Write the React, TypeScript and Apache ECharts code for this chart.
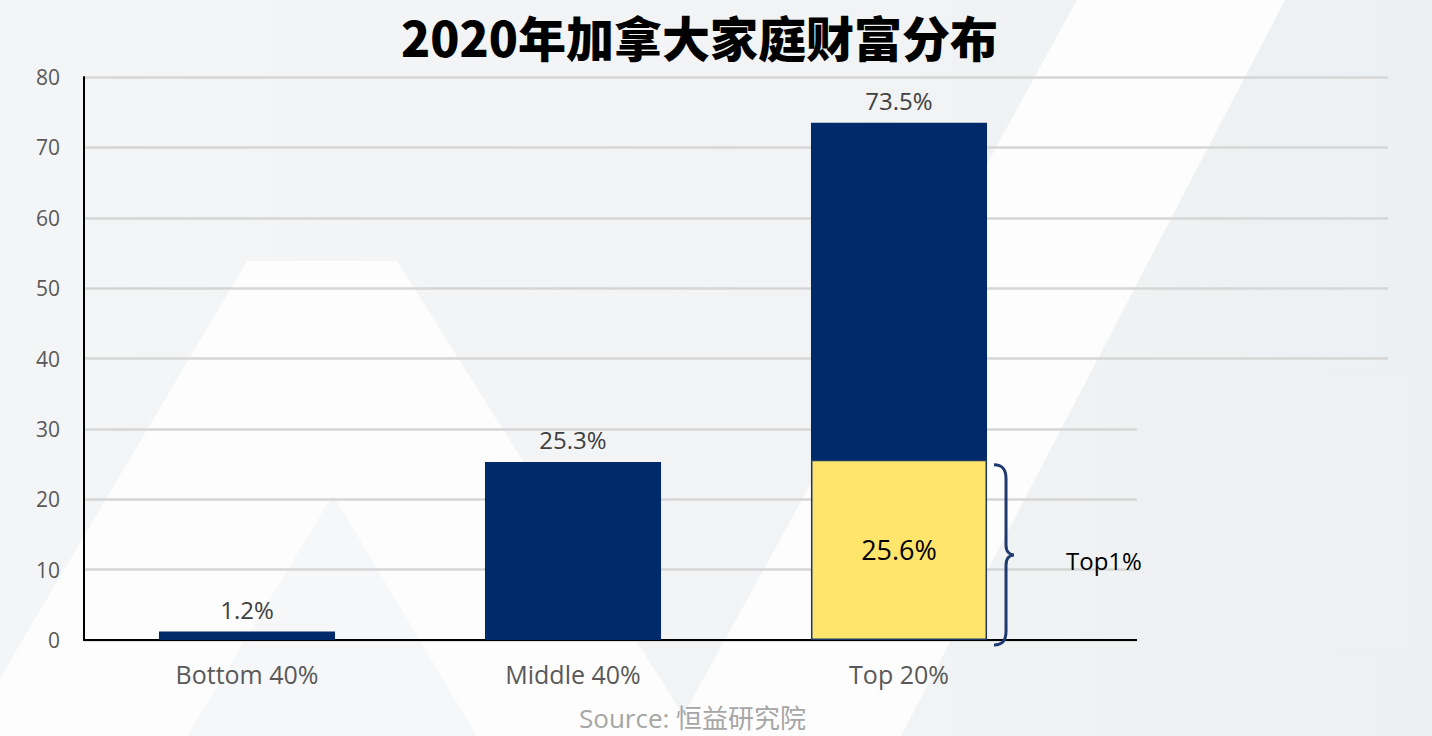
import React, { useEffect, useRef } from 'react';
import * as echarts from 'echarts';

const TITLE = '2020年加拿大家庭财富分布';
const SOURCE = 'Source: 恒益研究院';
const CATEGORIES = ['Bottom 40%', 'Middle 40%', 'Top 20%', ''];
const WEALTH_SHARE: (number | null)[] = [1.2, 25.3, 73.5, null];
const TOP1_SHARE: (number | null)[] = [null, null, 25.6, null];
const TOP1_LABEL = 'Top1%';
const Y_MIN = 0;
const Y_MAX = 80;
const Y_STEP = 10;

const NAVY = '#012a6a';
const YELLOW = '#ffe56b';
const BG = '#eff1f3';
const BAR_WIDTH_RATIO = 0.54;
const LATIN = 'Open Sans';

export default function App() {
  const ref = useRef<HTMLDivElement>(null);

  useEffect(() => {
    if (!ref.current) return;
    const chart = echarts.init(ref.current, undefined, { renderer: 'svg' });

    const braceData = TOP1_SHARE.map((v, i) => (v == null ? null : [i, v, 0])).filter(
      (d) => d != null
    ) as number[][];

    const renderBrace = (params: any, api: any) => {
      const idx = api.value(0);
      const xc = api.coord([idx, 0])[0];
      const yT = api.coord([idx, api.value(1)])[1] + 5;
      const yB = api.coord([idx, api.value(2)])[1] + 5;
      const ym = (yT + yB) / 2;
      const bw = api.size([1, 0])[0] * BAR_WIDTH_RATIO;
      const x0 = xc + bw / 2 + 7;
      const d =
        `M${x0} ${yT} C${x0 + 8} ${yT} ${x0 + 12} ${yT + 4} ${x0 + 12} ${yT + 14} ` +
        `L${x0 + 12} ${ym - 10} C${x0 + 12} ${ym - 3} ${x0 + 16} ${ym} ${x0 + 20} ${ym} ` +
        `C${x0 + 16} ${ym} ${x0 + 12} ${ym + 3} ${x0 + 12} ${ym + 10} ` +
        `L${x0 + 12} ${yB - 14} C${x0 + 12} ${yB - 4} ${x0 + 8} ${yB} ${x0} ${yB}`;
      return {
        type: 'group',
        children: [
          {
            type: 'path',
            shape: { pathData: d },
            style: { stroke: '#1f3a70', lineWidth: 3, fill: 'none' },
          },
          {
            type: 'text',
            style: {
              text: TOP1_LABEL,
              x: x0 + 72,
              y: ym + 6,
              fill: '#000',
              fontSize: 24,
              fontFamily: LATIN,
              verticalAlign: 'middle',
              align: 'left',
            },
          },
        ],
      };
    };

    const option: any = {
      animation: false,
      backgroundColor: BG,
      title: {
        text: TITLE,
        left: 396,
        top: 7,
        textStyle: {
          fontFamily: 'Noto Sans CJK SC',
          fontWeight: 900,
          fontSize: 48,
          color: '#000',
        },
      },
      grid: { left: 84, right: 44, top: 77, bottom: 96, containLabel: false },
      xAxis: {
        type: 'category',
        data: CATEGORIES,
        axisLine: { lineStyle: { color: '#000', width: 2 } },
        axisTick: { show: false },
        axisLabel: { color: '#595959', fontSize: 25, fontFamily: LATIN, margin: 21 },
        splitLine: { show: false },
      },
      yAxis: {
        type: 'value',
        min: Y_MIN,
        max: Y_MAX,
        interval: Y_STEP,
        axisLine: { show: true, lineStyle: { color: '#000', width: 2 } },
        axisTick: { show: false },
        axisLabel: { color: '#595959', fontSize: 21, fontFamily: LATIN, margin: 24 },
        splitLine: { lineStyle: { color: '#d6d6d6', width: 2.5 } },
      },
      graphic: [
        {
          type: 'rect',
          z: -20,
          shape: { x: 0, y: 0, width: 1432, height: 736 },
          style: {
            fill: new echarts.graphic.LinearGradient(0, 0, 1, 0, [
              { offset: 0, color: '#f4f5f6' },
              { offset: 0.6, color: '#f1f3f4' },
              { offset: 1, color: '#edf0f2' },
            ]),
          },
        },
        {
          type: 'polygon',
          z: -10,
          shape: { points: [[247, 261], [397, 261], [685, 718], [690, 736], [0, 736], [0, 678]] },
          style: { fill: '#fdfdfd' },
        },
        {
          type: 'polygon',
          z: -9,
          shape: { points: [[333, 495], [477, 736], [187, 736]] },
          style: { fill: '#f6f7f8' },
        },
        {
          type: 'polygon',
          z: -10,
          shape: { points: [[1077, 0], [1285, 0], [901, 736], [672, 736]] },
          style: { fill: '#fdfdfd' },
        },
        {
          type: 'rect',
          z: 1,
          shape: { x: 1137, y: 372, width: 270, height: 280 },
          style: { fill: '#eef0f2' },
        },
        {
          type: 'text',
          z: 5,
          x: 579,
          y: 718,
          style: {
            text: SOURCE,
            fill: '#a6a6a6',
            fontSize: 26,
            fontFamily: '"Open Sans", "Noto Sans CJK SC"',
            verticalAlign: 'middle',
          },
        },
      ],
      series: [
        {
          type: 'bar',
          data: WEALTH_SHARE,
          barWidth: `${BAR_WIDTH_RATIO * 100}%`,
          barGap: '-100%',
          itemStyle: { color: NAVY },
          label: {
            show: true,
            position: 'top',
            distance: 10,
            formatter: (p: any) => `${Number(p.value).toFixed(1)}%`,
            color: '#404040',
            fontSize: 24,
            fontFamily: LATIN,
          },
          z: 2,
        },
        {
          type: 'bar',
          data: TOP1_SHARE,
          barWidth: `${BAR_WIDTH_RATIO * 100}%`,
          barGap: '-100%',
          itemStyle: { color: YELLOW, borderColor: '#1f3864', borderWidth: 1.5 },
          label: {
            show: true,
            position: 'inside',
            formatter: (p: any) => `${Number(p.value).toFixed(1)}%`,
            color: '#000',
            fontSize: 27,
            fontFamily: LATIN,
          },
          z: 3,
        },
        {
          type: 'custom',
          data: braceData,
          renderItem: renderBrace,
          silent: true,
          z: 10,
        },
      ],
    };

    chart.setOption(option);
    return () => chart.dispose();
  }, []);

  return (
    <div
      ref={ref}
      style={{ position: 'absolute', left: 0, top: 0, width: 1432, height: 736 }}
    />
  );
}
